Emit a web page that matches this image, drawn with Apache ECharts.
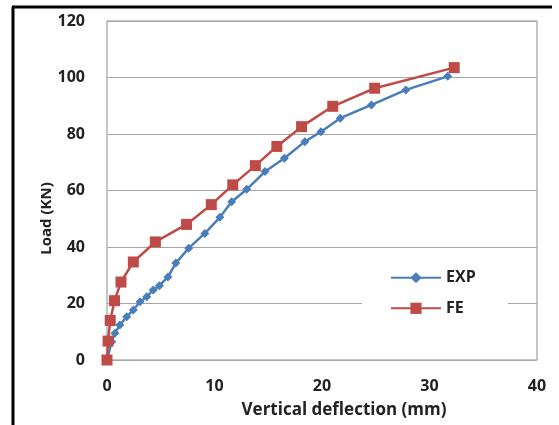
<!DOCTYPE html>
<title>load deflection</title>
<style>
body {margin: 0; background: #fff;}
#echart {height: 425px; width: 559px;}
</style>
<div id='echart'></div>
<script src='https://cdn.jsdelivr.net/npm/echarts@6.0.0/dist/echarts.min.js'></script>
<script>
// values: [deflection mm, load kN]
let exp_points = [
	[0, 0], [0.44, 6.5], [0.74, 9.5], [1.2, 12.4], [1.83, 15.3], [2.45, 17.7], [3.07, 20.6],
	[3.7, 22.4], [4.3, 24.8], [4.87, 26.3], [5.67, 29.4], [6.4, 34.3], [7.6, 39.6], [9.1, 44.8],
	[10.5, 50.5], [11.6, 56], [13.0, 60.4], [14.7, 66.7], [16.5, 71.4], [18.4, 77.3], [19.9, 80.8],
	[21.7, 85.6], [24.6, 90.3], [27.8, 95.6], [31.7, 100.4],
]
let fe_points = [
	[0, 0], [0.1, 6.7], [0.3, 14], [0.7, 21], [1.3, 27.6], [2.45, 34.7], [4.5, 41.8], [7.4, 48],
	[9.7, 55], [11.7, 62], [13.8, 68.8], [15.8, 75.6], [18.1, 82.6], [21, 89.8], [24.9, 96.2], [32.3, 103.5],
]
let x_ticks = {min: 0, max: 40, interval: 10}
let y_ticks = {min: 0, max: 120, interval: 20}

let font = "'Open Sans', 'DejaVu Sans', sans-serif"
let echart = echarts.init(document.querySelector('#echart'), null, {renderer: 'canvas'})
let option = {
	animation: false,
	textStyle: {fontFamily: font},
	grid: {left: 107, right: 22, top: 21, bottom: 65, show: true, borderColor: '#8c8c8c', borderWidth: 1,
		containLabel: false, outerBoundsMode: 'none'},
	xAxis: {
		type: 'value', ...x_ticks,
		name: 'Vertical deflection (mm)', nameLocation: 'middle', nameGap: 34, nameMoveOverlap: false,
		nameTextStyle: {fontSize: 17, fontWeight: 'bold', color: '#222', padding: [0, 0, 0, 44]},
		axisLine: {show: false}, axisTick: {show: false}, splitLine: {show: false},
		axisLabel: {fontSize: 16, fontWeight: 'bold', color: '#222', margin: 12},
	},
	yAxis: {
		type: 'value', ...y_ticks,
		name: 'Load (KN)', nameLocation: 'middle', nameGap: 46, nameRotate: 90, nameMoveOverlap: false,
		nameTextStyle: {fontSize: 15, fontWeight: 'bold', color: '#222', padding: [0, 56, 0, 0]},
		axisLine: {show: false}, axisTick: {show: false},
		splitLine: {lineStyle: {color: '#a6a6a6', width: 1}},
		axisLabel: {fontSize: 16, fontWeight: 'bold', color: '#222', margin: 22},
	},
	legend: {
		orient: 'vertical', left: 362, top: 253,
		padding: [10, 32, 10, 28], itemGap: 1, itemWidth: 50, itemHeight: 14,
		backgroundColor: '#fff',
		textStyle: {fontSize: 16, fontWeight: 'bold', color: '#222', fontFamily: font},
		data: ['EXP', 'FE'],
	},
	series: [
		{type: 'line', name: 'EXP', data: exp_points, symbol: 'diamond', symbolSize: 9,
			lineStyle: {color: '#4a7ebb', width: 2.5}, itemStyle: {color: '#4a7ebb'}, z: 2},
		{type: 'line', name: 'FE', data: fe_points, symbol: 'rect', symbolSize: 11,
			lineStyle: {color: '#be4b48', width: 2.5}, itemStyle: {color: '#be4b48'}, z: 3},
	],
	graphic: [
		{type: 'line', shape: {x1: 13, y1: 7, x2: 13, y2: 425}, style: {stroke: '#000', lineWidth: 3}},
		{type: 'line', shape: {x1: 12, y1: 7, x2: 552, y2: 7}, style: {stroke: '#000', lineWidth: 3}},
	],
}
echart.setOption(option)
</script>
